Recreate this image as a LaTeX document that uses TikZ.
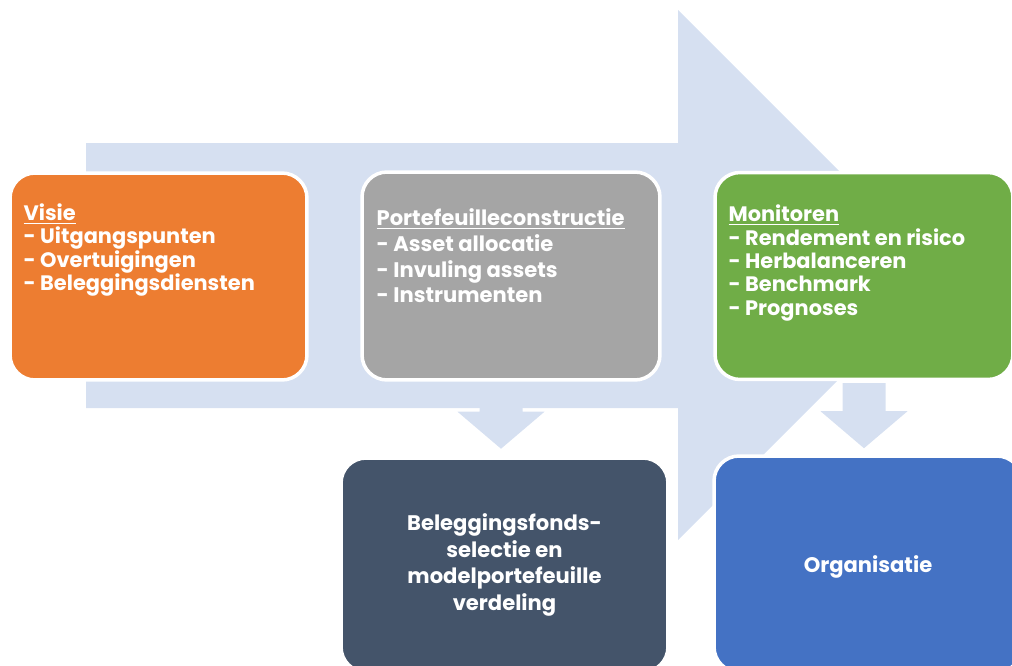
\documentclass[tikz,border=0pt]{standalone}
\usepackage{fontspec}
\setmainfont{Poppins}
\usetikzlibrary{positioning}
\definecolor{stepOrange}{RGB}{237, 125, 49}
\definecolor{stepGrey}{RGB}{165, 165, 165}
\definecolor{stepGreen}{RGB}{112, 173, 71}
\definecolor{stepSlate}{RGB}{68, 84, 106}
\definecolor{stepBlue}{RGB}{68, 114, 196}
\definecolor{flowBlue}{RGB}{214, 224, 241}

\tikzset{
    stepbox/.style={rounded corners=0.5cm, draw=white, line width=2pt, inner sep=0pt},
    steptext/.style={align=left, inner sep=0pt, text=white,
        font=\bfseries\fontsize{11.9}{13.3}\selectfont},
    pics/omlaagpijl/.style={code={
        \fill[flowBlue] (-21.5,2) -- (21.5,2) -- (21.5,30) -- (43.5,30)
            -- (0,67) -- (-43.5,30) -- (-21.5,30) -- cycle;
    }}
}

\begin{document}
\begin{tikzpicture}[x=0.02cm, y=-0.02cm]
    \useasboundingbox (0,0) rectangle (1012,666);
    \clip (0,0) rectangle (1012,666);

    % big process arrow in the background
    \fill[flowBlue] (86,143) -- (678,143) -- (678,10) -- (943,275)
        -- (678,540) -- (678,408) -- (86,408) -- cycle;

    \node[stepbox, fill=stepOrange, minimum width=5.94cm, minimum height=4.14cm]
        (visie) at (158.5,276.5) {};
    \node[stepbox, fill=stepGrey, minimum width=5.96cm, minimum height=4.16cm]
        (constructie) at (511,276) {};
    \node[stepbox, fill=stepGreen, minimum width=5.96cm, minimum height=4.14cm]
        (monitoren) at (864,276) {};

    \pic (pijlA) at ([xshift=-0.2cm]constructie.south) {omlaagpijl};
    \pic (pijlB) at (monitoren.south) {omlaagpijl};

    \node[stepbox, fill=stepSlate, minimum width=6.54cm, minimum height=4.28cm,
        align=center, text=white, font=\bfseries\fontsize{12}{15.2}\selectfont]
        (fondsen) at (504.5,565) {Beleggingsfonds-\\selectie en\\modelportefeuille\\verdeling};
    \node[stepbox, fill=stepBlue, minimum width=6.16cm, minimum height=4.32cm,
        text=white, font=\bfseries\fontsize{12}{15.2}\selectfont, text height=0.44cm]
        (organisatie) at (868,564) {Organisatie};

    \node[steptext, below right=0.64cm and 0.3cm of visie.north west] (visieTxt)
        {\underline{Visie}\\- Uitgangspunten\\- Overtuigingen\\- Beleggingsdiensten};
    \node[steptext, font=\bfseries\fontsize{12}{14.7}\selectfont,
        below right=0.76cm and 0.32cm of constructie.north west] (constructieTxt)
        {\underline{Portefeuilleconstructie}\\- Asset allocatie\\- Invuling assets\\- Instrumenten};
    \node[steptext, below right=0.68cm and 0.3cm of monitoren.north west] (monitorenTxt)
        {\underline{Monitoren}\\- Rendement en risico\\- Herbalanceren\\- Benchmark\\- Prognoses};
\end{tikzpicture}
\end{document}
